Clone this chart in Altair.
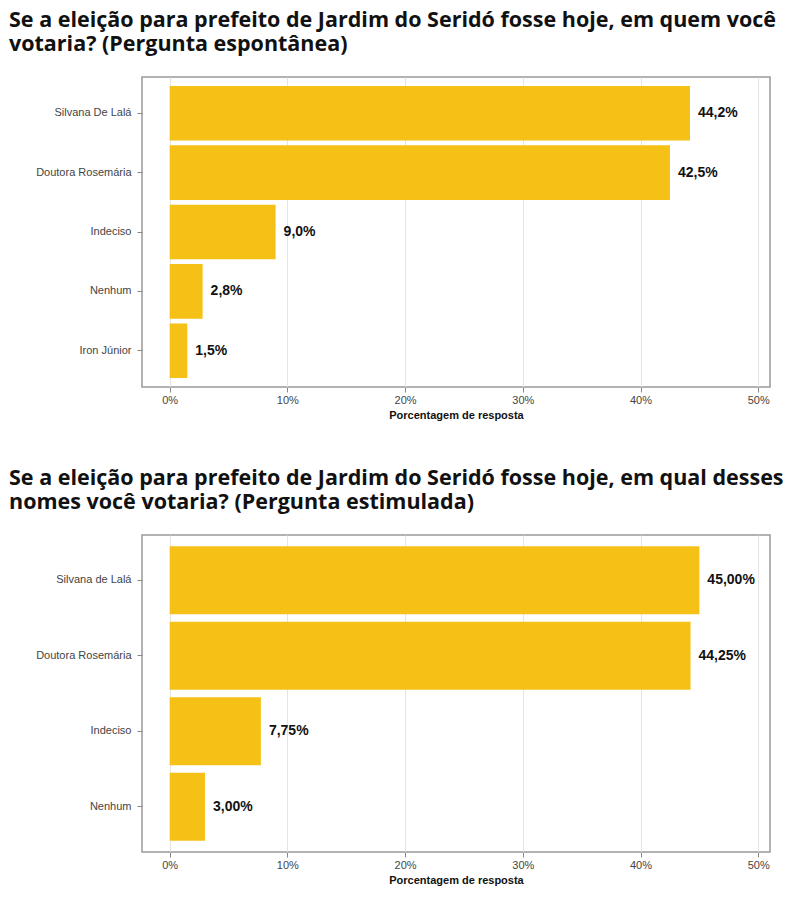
import pandas as pd
import altair as alt

# Pergunta espontânea
nomes_1 = ["Silvana De Lalá", "Doutora Rosemária", "Indeciso", "Nenhum", "Iron Júnior"]
valores_1 = [44.2, 42.5, 9.0, 2.8, 1.5]
rotulos_1 = ["44,2%", "42,5%", "9,0%", "2,8%", "1,5%"]

# Pergunta estimulada
nomes_2 = ["Silvana de Lalá", "Doutora Rosemária", "Indeciso", "Nenhum"]
valores_2 = [45.00, 44.25, 7.75, 3.00]
rotulos_2 = ["45,00%", "44,25%", "7,75%", "3,00%"]

ticks = [0, 10, 20, 30, 40, 50]
COR = "#F5C116"


def painel(nomes, valores, rotulos, titulo, altura, pad_inner):
    df = pd.DataFrame({"nome": nomes, "valor": valores, "rotulo": rotulos})
    x = alt.X("valor:Q", title="Porcentagem de resposta",
              scale=alt.Scale(domain=[-2.35, 51], nice=False, zero=False),
              axis=alt.Axis(values=ticks, labelExpr="datum.value + '%'",
                            titleFontWeight="bold", titleFontSize=11, titleColor="#111",
                            labelColor="#444", labelFontSize=11, tickColor="#888",
                            gridColor="#e3e3e3", domain=False, titlePadding=4))
    y = alt.Y("nome:N", sort=nomes, title=None,
              scale=alt.Scale(paddingInner=pad_inner, paddingOuter=0.15),
              axis=alt.Axis(labelColor="#444", labelFontSize=11, tickColor="#888",
                            domain=False, grid=False, labelPadding=6))
    base = alt.Chart(df).encode(y=y)
    barras = base.mark_bar(color=COR).encode(x=x, x2=alt.datum(0))
    texto = base.mark_text(align="left", dx=8, fontWeight="bold", fontSize=14,
                           color="#111", font="Liberation Sans").encode(
        x="valor:Q", text="rotulo:N")
    return (barras + texto).properties(
        width=628, height=altura,
        title=alt.TitleParams(titulo, anchor="start", frame="group", dx=-133,
                              fontSize=21.5, font="Open Sans", fontWeight="bold",
                              color="#111", offset=22, lineHeight=24),
    )


c1 = painel(nomes_1, valores_1, rotulos_1,
            ["Se a eleição para prefeito de Jardim do Seridó fosse hoje, em quem você",
             "votaria? (Pergunta espontânea)"], 310, 0.08)
c2 = painel(nomes_2, valores_2, rotulos_2,
            ["Se a eleição para prefeito de Jardim do Seridó fosse hoje, em qual desses",
             "nomes você votaria? (Pergunta estimulada)"], 317, 0.1)

chart = alt.vconcat(c1, c2, spacing=45).properties(
    padding={"left": 0, "top": 0, "right": 0, "bottom": 0}
).configure(
    font="Liberation Sans"
).configure_view(stroke="#999", strokeWidth=1.5).configure_axis(labelFont="Liberation Sans")

chart.save("out.html", embed_options={"renderer": "svg", "actions": False})
